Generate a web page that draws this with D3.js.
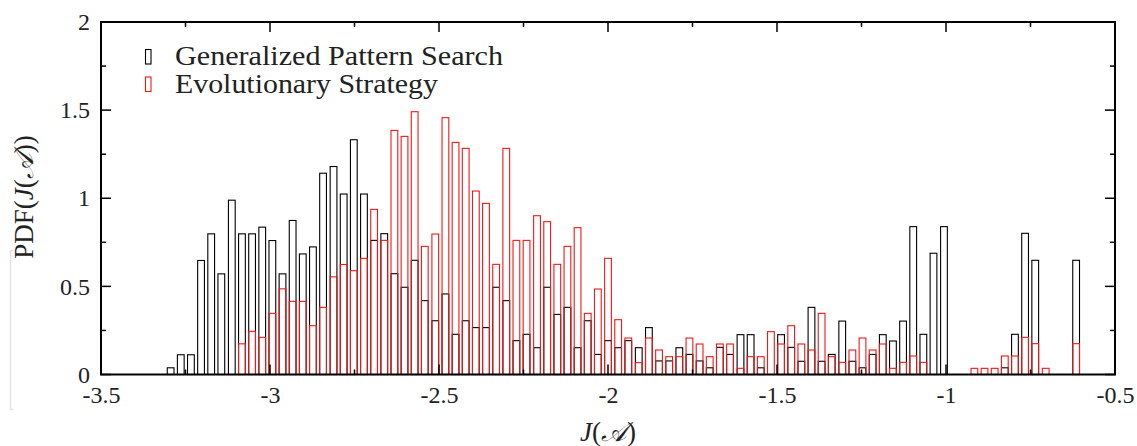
<!DOCTYPE html>
<html>
<head>
<meta charset="utf-8">
<script src="https://cdn.jsdelivr.net/npm/d3@7/dist/d3.min.js"></script>
<style>
  body { margin: 0; background: #fff; }
  text { font-family: "Liberation Serif", "DejaVu Serif", serif; fill: #222; }
</style>
</head>
<body>
<div id="chart"></div>
<script>
// histogram bin centres (J(A))
const binCenters = [
  -3.294, -3.264, -3.234, -3.204, -3.174, -3.144, -3.113, -3.083, -3.053, -3.023,
  -2.993, -2.963, -2.933, -2.903, -2.873, -2.843, -2.812, -2.782, -2.752, -2.722,
  -2.692, -2.662, -2.632, -2.602, -2.572, -2.542, -2.511, -2.481, -2.451, -2.421,
  -2.391, -2.361, -2.331, -2.301, -2.271, -2.241, -2.210, -2.180, -2.150, -2.120,
  -2.090, -2.060, -2.030, -2.000, -1.970, -1.940, -1.909, -1.879, -1.849, -1.819,
  -1.789, -1.759, -1.729, -1.699, -1.669, -1.639, -1.608, -1.578, -1.548, -1.518,
  -1.488, -1.458, -1.428, -1.398, -1.368, -1.338, -1.307, -1.277, -1.247, -1.217,
  -1.187, -1.157, -1.127, -1.097, -1.067, -1.037, -1.006, -0.976, -0.946, -0.916,
  -0.886, -0.856, -0.826, -0.796, -0.766, -0.736, -0.705, -0.675, -0.645, -0.615
];

// Generalized Pattern Search
const gpsPdf = [
  0.038, 0.112, 0.112, 0.647, 0.798, 0.571, 0.989, 0.798, 0.798, 0.836,
  0.760, 0.571, 0.874, 0.684, 0.724, 1.142, 1.180, 1.024, 1.332, 1.024,
  0.761, 0.799, 0.572, 0.495, 0.648, 0.419, 0.305, 0.457, 0.228, 0.305,
  0.266, 0.266, 0.495, 0.419, 0.192, 0.228, 0.152, 0.495, 0.341, 0.381,
  0.152, 0.305, 0.114, 0.192, 0.152, 0.192, 0.152, 0.266, 0.077, 0.077,
  0.152, 0.114, 0.077, 0.038, 0.154, 0.114, 0.226, 0.226, 0.038, 0,
  0.226, 0.154, 0.075, 0.381, 0.075, 0.114, 0.303, 0.075, 0.038, 0.114,
  0.226, 0.190, 0.303, 0.839, 0.228, 0.688, 0.839, 0, 0, 0,
  0, 0, 0.038, 0.228, 0.801, 0.648, 0, 0, 0, 0.648
];

// Evolutionary Strategy
const esPdf = [
  0, 0, 0, 0, 0, 0, 0, 0.174, 0.245, 0.211,
  0.347, 0.486, 0.415, 0.415, 0.277, 0.381, 0.554, 0.624, 0.589, 0.659,
  0.937, 0.761, 1.385, 1.351, 1.491, 0.727, 0.797, 1.457, 1.317, 1.283,
  1.041, 0.971, 0.625, 1.283, 0.761, 0.761, 0.901, 0.867, 0.625, 0.727,
  0.833, 0.347, 0.485, 0.659, 0.311, 0.207, 0.067, 0.207, 0.139, 0.101,
  0.101, 0.207, 0.173, 0.101, 0.173, 0.173, 0.035, 0.101, 0.101, 0.243,
  0.173, 0.277, 0.173, 0.139, 0.347, 0.101, 0.069, 0.139, 0.207, 0.139,
  0.173, 0.035, 0.069, 0.105, 0.069, 0, 0, 0, 0, 0.035,
  0.035, 0.035, 0.105, 0.105, 0.211, 0.175, 0.035, 0, 0, 0.175
];

const seriesNames = ["Generalized Pattern Search", "Evolutionary Strategy"];
const seriesColors = ["#000", "#f01818"];

const yTicks = [0, 0.5, 1, 1.5, 2];

const W = 1137, H = 446;
const margin = {left: 101, right: 22, top: 22, bottom: 71.5};
const boxWidth = 0.02;

const svg = d3.select("#chart").append("svg")
  .attr("width", W).attr("height", H);

const x = d3.scaleLinear().domain([-3.5, -0.5]).range([margin.left, W - margin.right]);
const y = d3.scaleLinear().domain([0, 2]).range([H - margin.bottom, margin.top]);

// faint frame leftover at the far left
svg.append("path")
  .attr("d", "M13.5,250.5 H10.5 V409.5 H13.5")
  .attr("fill", "none").attr("stroke", "#e4e4e4").attr("stroke-width", 1.5);

// bars
[gpsPdf, esPdf].forEach((vals, si) => {
  svg.append("g").selectAll("rect")
    .data(binCenters.map((c, i) => ({c, v: vals[i]})).filter(d => d.v > 0))
    .join("rect")
    .attr("x", d => x(d.c - boxWidth / 2))
    .attr("width", d => x(d.c + boxWidth / 2) - x(d.c - boxWidth / 2))
    .attr("y", d => y(d.v))
    .attr("height", d => y(0) - y(d.v))
    .attr("fill", "none")
    .attr("stroke", seriesColors[si])
    .attr("stroke-width", 1.1);
});

// axes with inward ticks (major 0.5, minor 0.25)
const minorX = d3.range(-3.5, -0.49, 0.25);
const minorY = d3.range(0, 2.01, 0.25);
const isMajor = v => Math.abs(v * 2 - Math.round(v * 2)) < 1e-6;

const axisBottom = d3.axisBottom(x).tickValues(minorX).tickSizeInner(0).tickSizeOuter(0)
  .tickFormat(d => isMajor(d) ? String(+d.toFixed(2)) : "");
const gx = svg.append("g").attr("transform", `translate(0,${y(0)})`).call(axisBottom);
gx.select(".domain").remove();
gx.selectAll(".tick line").remove();
gx.selectAll(".tick text").attr("dy", "0.95em").attr("y", 6)
  .style("font-size", "24px").attr("fill", "#222");

const gy = svg.append("g").attr("transform", `translate(${x(-3.5)},0)`)
  .call(d3.axisLeft(y).tickValues(yTicks).tickSize(0).tickFormat(d3.format("")));
gy.select(".domain").remove();
gy.selectAll(".tick text").attr("x", -11).style("font-size", "24px").attr("fill", "#222");

const tickG = svg.append("g").attr("stroke", "#000").attr("stroke-width", 1.5);
minorX.forEach(v => {
  const len = isMajor(v) ? 10 : 5;
  tickG.append("line").attr("x1", x(v)).attr("x2", x(v)).attr("y1", y(0)).attr("y2", y(0) - len);
  tickG.append("line").attr("x1", x(v)).attr("x2", x(v)).attr("y1", y(2)).attr("y2", y(2) + len);
});
minorY.forEach(v => {
  const len = isMajor(v) ? 10 : 5;
  tickG.append("line").attr("x1", x(-3.5)).attr("x2", x(-3.5) + len).attr("y1", y(v)).attr("y2", y(v));
  tickG.append("line").attr("x1", x(-0.5)).attr("x2", x(-0.5) - len).attr("y1", y(v)).attr("y2", y(v));
});

// frame
svg.append("rect")
  .attr("x", x(-3.5)).attr("y", y(2))
  .attr("width", x(-0.5) - x(-3.5)).attr("height", y(0) - y(2))
  .attr("fill", "none").attr("stroke", "#000").attr("stroke-width", 2);

// axis titles
svg.append("text")
  .attr("x", (x(-3.5) + x(-0.5)) / 2).attr("y", 441)
  .attr("text-anchor", "middle").style("font-size", "27px")
  .html('<tspan font-style="italic">J</tspan>(<tspan font-style="italic">\u{1D49C}</tspan>)');

svg.append("text")
  .attr("transform", "translate(33,197) rotate(-90)")
  .attr("text-anchor", "middle").style("font-size", "27px")
  .html('PDF(<tspan font-style="italic">J</tspan>(<tspan font-style="italic">\u{1D49C}</tspan>))');

// legend
const legend = svg.append("g");
seriesNames.forEach((name, i) => {
  const ly = 65 + i * 27.5;
  legend.append("rect")
    .attr("x", 145.5).attr("y", ly - 15.5).attr("width", 5.5).attr("height", 14.5)
    .attr("fill", "none").attr("stroke", seriesColors[i]).attr("stroke-width", 1.1);
  legend.append("text")
    .attr("x", 175).attr("y", ly)
    .attr("textLength", i === 0 ? 328 : 263).attr("lengthAdjust", "spacingAndGlyphs")
    .style("font-size", "27px")
    .text(name);
});
</script>
</body>
</html>
